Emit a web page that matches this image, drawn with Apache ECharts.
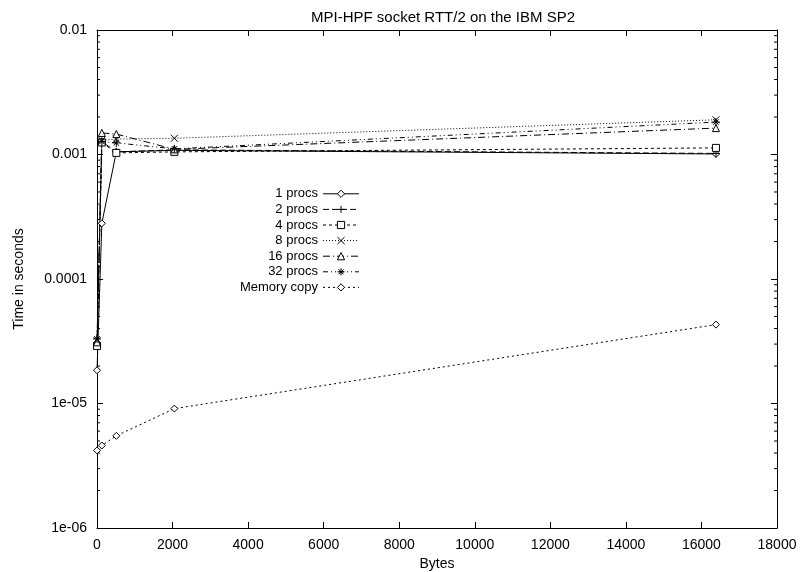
<!DOCTYPE html>
<html><head><meta charset="utf-8">
<script src="https://cdn.jsdelivr.net/npm/echarts@6/dist/echarts.min.js"></script>
<style>html,body{margin:0;padding:0;background:#fff}#c{width:803px;height:572px}</style>
</head><body><div id="c"></div>
<script>
var bytes = [1, 128, 512, 2048, 16384];
var procs1 = [1.85e-5, 2.8e-4, 1.05e-3, 1.08e-3, 1.01e-3];
var procs2 = [3.0e-5, 1.27e-3, 1.05e-3, 1.09e-3, 1.02e-3];
var procs4 = [2.9e-5, 1.25e-3, 1.03e-3, 1.05e-3, 1.13e-3];
var procs8 = [3.2e-5, 1.30e-3, 1.33e-3, 1.35e-3, 1.90e-3];
var procs16 = [3.1e-5, 1.49e-3, 1.46e-3, 1.10e-3, 1.63e-3];
var procs32 = [3.3e-5, 1.27e-3, 1.24e-3, 1.11e-3, 1.82e-3];
var memcopy = [4.2e-6, 4.6e-6, 5.5e-6, 9.1e-6, 4.3e-5];
var seriesNames = ['1 procs','2 procs','4 procs','8 procs','16 procs','32 procs','Memory copy'];
var yTickLabels = {'-6':'1e-06','-5':'1e-05','-4':'0.0001','-3':'0.001','-2':'0.01'};
var xTicks = [0,2000,4000,6000,8000,10000,12000,14000,16000,18000];

var FONT = 'Liberation Sans';
function pts(ys){ return bytes.map(function(x,i){ return [x, ys[i]]; }); }
var minorVals = [];
for (var e = -6; e < -2; e++) for (var m = 2; m <= 9; m++) minorVals.push(m * Math.pow(10, e));

var sym = {
  diamond: 'diamond',
  plus: 'path://M0,5L10,5M5,0L5,10',
  square: 'rect',
  cross: 'path://M0,0L10,10M10,0L0,10',
  triangle: 'triangle',
  star: 'path://M0,5L10,5M5,0L5,10M1.5,1.5L8.5,8.5M8.5,1.5L1.5,8.5'
};
function mk(name, ys, symbol, dash, size){
  return {
    name: name, type: 'line', data: pts(ys), symbol: symbol, symbolSize: size || 7,
    lineStyle: {color: '#000', width: 1, type: dash},
    itemStyle: {color: '#fff', borderColor: '#000', borderWidth: 1},
    emphasis: {disabled: true}, animation: false, z: 3
  };
}
var series = [
  mk(seriesNames[0], procs1, sym.diamond, 'solid', 7),
  mk(seriesNames[1], procs2, sym.plus, [6,3], 8),
  mk(seriesNames[2], procs4, sym.square, [3,3], 7),
  mk(seriesNames[3], procs8, sym.cross, [1,2], 7),
  mk(seriesNames[4], procs16, sym.triangle, [7,3,1,3], 7),
  mk(seriesNames[5], procs32, sym.star, [5,3,1,3,1,3], 8),
  mk(seriesNames[6], memcopy, sym.diamond, [2,3], 7),
  {
    type: 'custom', silent: true, animation: false, z: 2,
    data: minorVals.map(function(v){ return [0, v]; }),
    renderItem: function(params, api){
      var v = api.value(1);
      var pL = api.coord([0, v]);
      var pR = api.coord([18000, v]);
      return {type: 'group', children: [
        {type: 'line', shape: {x1: pL[0], y1: pL[1], x2: pL[0] + 3, y2: pL[1]}, style: {stroke: '#000', lineWidth: 1}},
        {type: 'line', shape: {x1: pR[0], y1: pR[1], x2: pR[0] - 3, y2: pR[1]}, style: {stroke: '#000', lineWidth: 1}}
      ]};
    }
  }
];

var axisCommon = {
  axisLine: {show: true, onZero: false, lineStyle: {color: '#000', width: 1}},
  axisTick: {show: true, inside: true, length: 6, lineStyle: {color: '#000'}},
  splitLine: {show: false}
};
var chart = echarts.init(document.getElementById('c'), null, {renderer: 'canvas'});
chart.setOption({
  backgroundColor: '#fff',
  animation: false,
  title: {text: 'MPI-HPF socket RTT/2 on the IBM SP2', left: 438, top: 5, textAlign: 'center',
    textStyle: {fontFamily: FONT, fontSize: 15, fontWeight: 'normal', color: '#000'}},
  grid: {left: 97, right: 26, top: 30, bottom: 44, containLabel: false, outerBoundsMode: 'none'},
  legend: {
    orient: 'vertical', left: 227, top: 181, align: 'right',
    itemWidth: 36, itemHeight: 9, itemGap: 0, data: seriesNames,
    lineStyle: {width: 1},
    itemStyle: {borderWidth: 1},
    formatter: function(n){ return '{a|' + n + '}'; },
    textStyle: {fontFamily: FONT, fontSize: 13, color: '#000',
      rich: {a: {width: 86, align: 'right', lineHeight: 15.6, height: 15.6, fontFamily: FONT, fontSize: 13, color: '#000'}}},
    selectedMode: false
  },
  xAxis: [
    Object.assign({type: 'value', min: 0, max: 18000, interval: 2000, position: 'bottom',
      name: 'Bytes', nameLocation: 'middle', nameGap: 28,
      nameTextStyle: {fontFamily: FONT, fontSize: 14, color: '#000'},
      axisLabel: {fontFamily: FONT, fontSize: 14, color: '#000', margin: 10,
        formatter: function(v){ return xTicks.indexOf(v) >= 0 ? String(v) : ''; }}}, axisCommon),
    Object.assign({type: 'value', min: 0, max: 18000, interval: 2000, position: 'top',
      axisLabel: {show: false}}, axisCommon)
  ],
  yAxis: [
    Object.assign({type: 'log', logBase: 10, min: 1e-6, max: 1e-2, interval: 1, position: 'left',
      name: 'Time in seconds', nameLocation: 'middle', nameGap: 71, nameRotate: 90,
      nameTextStyle: {fontFamily: FONT, fontSize: 14, color: '#000'},
      axisLabel: {fontFamily: FONT, fontSize: 14, color: '#000', margin: 10,
        formatter: function(v){ var k = String(Math.round(Math.log10(v))); return yTickLabels[k] || ''; }}}, axisCommon),
    Object.assign({type: 'log', logBase: 10, min: 1e-6, max: 1e-2, interval: 1, position: 'right',
      axisLabel: {show: false}}, axisCommon)
  ],
  series: series
});
</script></body></html>
